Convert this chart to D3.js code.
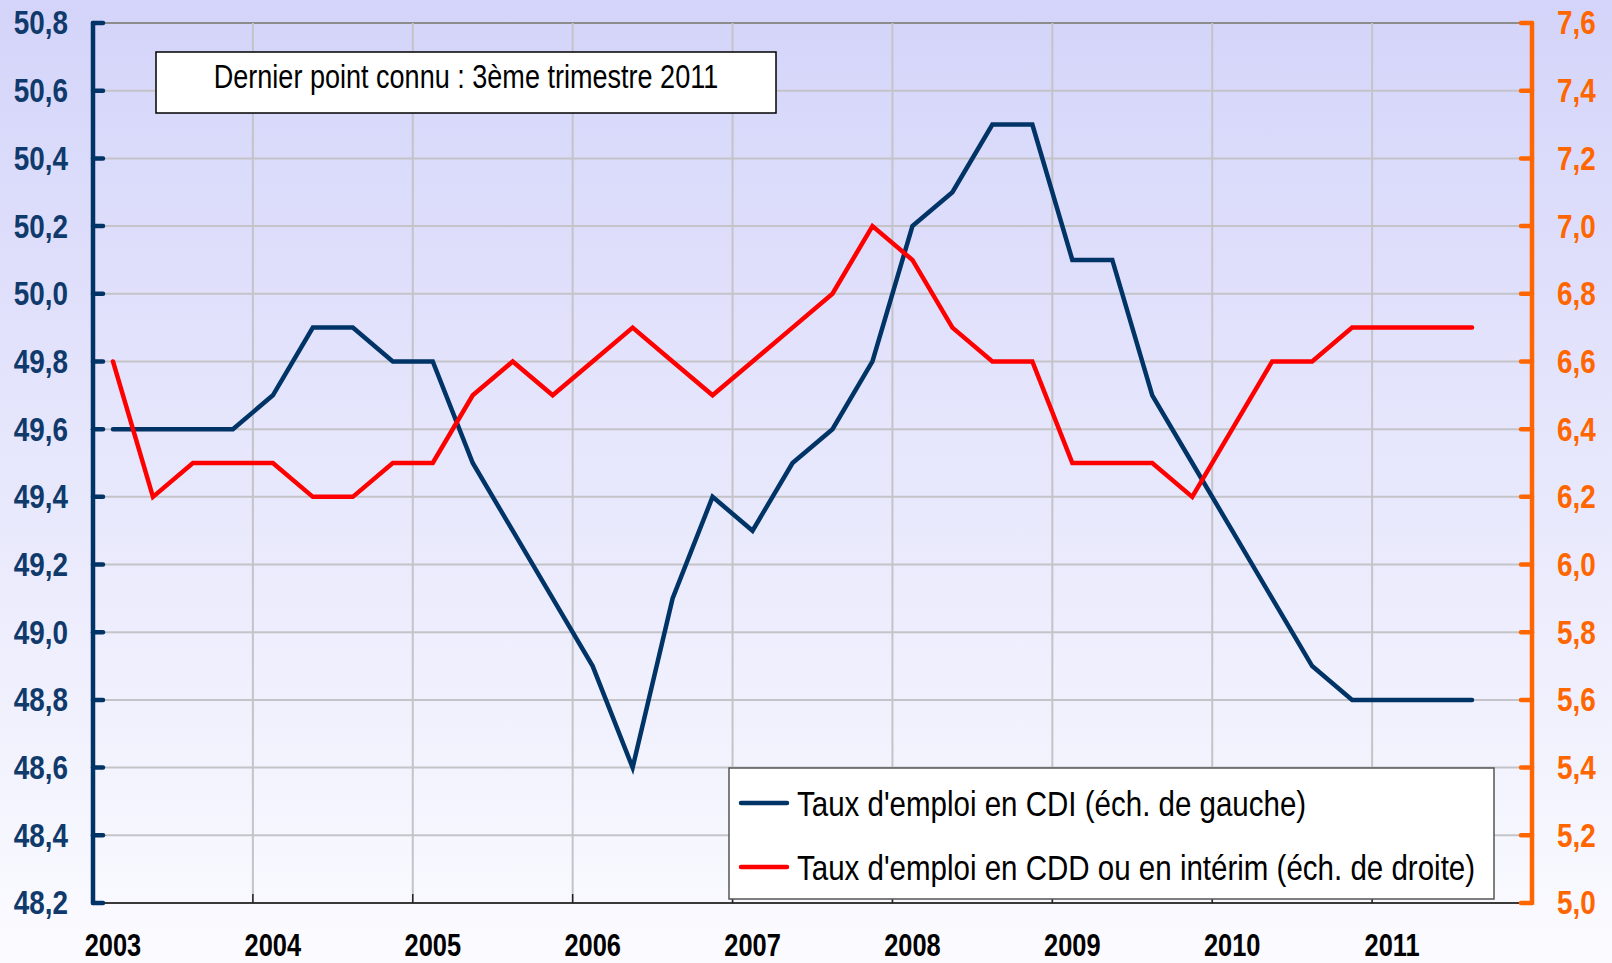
<!DOCTYPE html>
<html><head><meta charset="utf-8">
<script src="https://cdn.jsdelivr.net/npm/d3@7/dist/d3.min.js"></script>
<style>html,body{margin:0;padding:0;overflow:hidden;background:#fff}</style>
</head><body><svg id="chart" width="1612" height="963"></svg>
<script>
// ---- data ----
const quarters = ["2003T1","2003T2","2003T3","2003T4","2004T1","2004T2","2004T3","2004T4",
  "2005T1","2005T2","2005T3","2005T4","2006T1","2006T2","2006T3","2006T4",
  "2007T1","2007T2","2007T3","2007T4","2008T1","2008T2","2008T3","2008T4",
  "2009T1","2009T2","2009T3","2009T4","2010T1","2010T2","2010T3","2010T4",
  "2011T1","2011T2","2011T3"];
const cdi = [49.6,49.6,49.6,49.6,49.7,49.9,49.9,49.8,
  49.8,49.5,49.3,49.1,48.9,48.6,49.1,49.4,
  49.3,49.5,49.6,49.8,50.2,50.3,50.5,50.5,
  50.1,50.1,49.7,49.5,49.3,49.1,48.9,48.8,
  48.8,48.8,48.8];
const cdd = [6.6,6.2,6.3,6.3,6.3,6.2,6.2,6.3,
  6.3,6.5,6.6,6.5,6.6,6.7,6.6,6.5,
  6.6,6.7,6.8,7.0,6.9,6.7,6.6,6.6,
  6.3,6.3,6.3,6.2,6.4,6.6,6.6,6.7,
  6.7,6.7,6.7];
const years = ["2003","2004","2005","2006","2007","2008","2009","2010","2011"];
const leftTicks = [48.2,48.4,48.6,48.8,49.0,49.2,49.4,49.6,49.8,50.0,50.2,50.4,50.6,50.8];
const rightTicks = [5.0,5.2,5.4,5.6,5.8,6.0,6.2,6.4,6.6,6.8,7.0,7.2,7.4,7.6];
const seriesNames = ["Taux d'emploi en CDI (éch. de gauche)","Taux d'emploi en CDD ou en intérim (éch. de droite)"];
const note = "Dernier point connu : 3ème trimestre 2011";

// ---- font detection ----
function hasFont(name){
  const c=document.createElement('canvas').getContext('2d');
  const s='abcdefghijklmnopqrstuvwxyz0123456789';
  c.font='40px monospace'; const a=c.measureText(s).width;
  c.font='40px "'+name+'", monospace'; const b=c.measureText(s).width;
  return a!==b;
}
const NARROW = hasFont("Liberation Sans Narrow");
const FAM = NARROW ? '"Liberation Sans Narrow"' : '"Liberation Sans", Arial, sans-serif';
const SX = NARROW ? 1 : 0.82;

const svg = d3.select("#chart");
const W=1612,H=963;
const L=93,R=1532,T=23,B=903;

const defs=svg.append("defs");
const grad=defs.append("linearGradient").attr("id","bg").attr("x1",0).attr("y1",0).attr("x2",0).attr("y2",1);
grad.append("stop").attr("offset","0%").attr("stop-color","#D4D4FA");
grad.append("stop").attr("offset","100%").attr("stop-color","#FBFBFF");
svg.append("rect").attr("width",W).attr("height",H).attr("fill","url(#bg)");

const nQ = 36;
const x = d3.scaleLinear().domain([0,nQ]).range([L,R]);
const yL = d3.scaleLinear().domain([48.2,50.8]).range([B,T]);
const yR = d3.scaleLinear().domain([5.0,7.6]).range([B,T]);
const fmt = v => d3.format(".1f")(v).replace(".",",");

function label(g,px,py,txt,anchor,size,weight,color){
  return g.append("text").attr("transform",`translate(${px},${py}) scale(${SX},1)`)
    .attr("text-anchor",anchor).attr("dominant-baseline","central")
    .attr("font-family",FAM).attr("font-size",size).attr("font-weight",weight)
    .attr("fill",color).text(txt);
}

// grid
const grid=svg.append("g");
grid.selectAll("line.h").data(leftTicks.slice(1)).join("line")
  .attr("x1",L).attr("x2",R).attr("y1",d=>yL(d)).attr("y2",d=>yL(d))
  .attr("stroke",(d,i,a)=>i===a.length-1?"#8C8C8C":"#C4C4C8").attr("stroke-width",2);
const yearBounds = d3.range(4,nQ+1,4);
grid.selectAll("line.v").data(yearBounds).join("line")
  .attr("x1",d=>x(d)).attr("x2",d=>x(d)).attr("y1",T).attr("y2",B)
  .attr("stroke","#C4C4C8").attr("stroke-width",2);

// x axis
const xa=svg.append("g");
xa.append("line").attr("x1",L).attr("x2",R).attr("y1",B).attr("y2",B).attr("stroke","#3A3A3A").attr("stroke-width",2);
xa.selectAll("line.t").data(yearBounds).join("line")
  .attr("x1",d=>x(d)).attr("x2",d=>x(d)).attr("y1",B).attr("y2",B-9).attr("stroke","#222").attr("stroke-width",1.5);
years.forEach((yv,i)=>label(xa,x(i*4+0.5),945,yv,"middle",31,"bold","#000"));

// left axis
const la=svg.append("g");
la.append("line").attr("x1",L).attr("x2",L).attr("y1",T).attr("y2",B).attr("stroke","#003366").attr("stroke-width",4.5).attr("stroke-linecap","round");
la.selectAll("line.t").data(leftTicks).join("line")
  .attr("x1",L).attr("x2",L+10).attr("y1",d=>yL(d)).attr("y2",d=>yL(d))
  .attr("stroke","#003366").attr("stroke-width",4.5).attr("stroke-linecap","round");
leftTicks.forEach(v=>label(la,68,yL(v),fmt(v),"end",34,"bold","#0F3A6B"));

// right axis
const ra=svg.append("g");
ra.append("line").attr("x1",R).attr("x2",R).attr("y1",T).attr("y2",B).attr("stroke","#FF6600").attr("stroke-width",4.5).attr("stroke-linecap","round");
ra.selectAll("line.t").data(rightTicks).join("line")
  .attr("x1",R).attr("x2",R-11).attr("y1",d=>yR(d)).attr("y2",d=>yR(d))
  .attr("stroke","#FF6600").attr("stroke-width",4.5).attr("stroke-linecap","round");
rightTicks.forEach(v=>label(ra,1557,yR(v),fmt(v),"start",34,"bold","#FF6600"));

// lines
const lineL=d3.line().x((d,i)=>x(i+0.5)).y(d=>yL(d));
const lineR=d3.line().x((d,i)=>x(i+0.5)).y(d=>yR(d));
svg.append("path").datum(cdi).attr("d",lineL).attr("fill","none").attr("stroke","#003366").attr("stroke-width",4.5).attr("stroke-linejoin","miter").attr("stroke-linecap","round");
svg.append("path").datum(cdd).attr("d",lineR).attr("fill","none").attr("stroke","#FF0000").attr("stroke-width",4.5).attr("stroke-linejoin","miter").attr("stroke-linecap","round");

// annotation box
const ann=svg.append("g");
ann.append("rect").attr("x",156).attr("y",52).attr("width",620).attr("height",61).attr("fill","#fff").attr("stroke","#000").attr("stroke-width",1.5);
label(ann,466,77,note,"middle",33,"normal","#000");

// legend
const lg=svg.append("g");
lg.append("rect").attr("x",729).attr("y",768).attr("width",765).attr("height",131).attr("fill","#fff").attr("stroke","#555").attr("stroke-width",1.5);
const lcol=["#003366","#FF0000"];
seriesNames.forEach((s,i)=>{
  const yy=803+i*64;
  lg.append("line").attr("x1",741).attr("x2",787).attr("y1",yy).attr("y2",yy).attr("stroke",lcol[i]).attr("stroke-width",4.5).attr("stroke-linecap","round");
  label(lg,797,yy,s,"start",36,"normal","#000");
});
</script></body></html>
